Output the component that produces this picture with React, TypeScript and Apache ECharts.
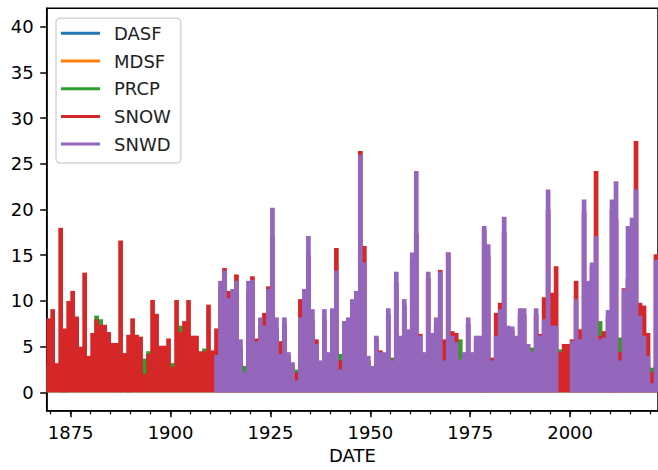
import React, { useEffect, useRef } from "react";
import * as echarts from "echarts";

// ---- data (one value per year) ----
const START_YEAR = 1869;
const X_MIN = 1869;
const X_MAX = 2022;
const X_LABEL_YEARS = [1875, 1900, 1925, 1950, 1975, 2000];
const X_MINOR_YEARS = [
  1870, 1875, 1880, 1885, 1890, 1895, 1900, 1905, 1910, 1915, 1920, 1925, 1930,
  1935, 1940, 1945, 1950, 1955, 1960, 1965, 1970, 1975, 1980, 1985, 1990, 1995,
  2000, 2005, 2010, 2015, 2020,
];
const Y_TICKS = [0, 5, 10, 15, 20, 25, 30, 35, 40];

// DASF and MDSF are hidden under the other series
const DASF: (number | null)[] = [];
const MDSF: (number | null)[] = [];

const PRCP: (number | null)[] = [
  3.0, 2.8, 2.9, 3.1, 2.7, 3.3, 2.9, 3.0, 3.2, 2.8, // 1869
  3.1, 2.9, 8.4, 8.0, 3.0, 2.8, 3.2, 2.9, 3.0, 3.1, // 1879
  2.8, 3.0, 2.9, 3.3, 3.7, 4.5, 3.0, 2.9, 3.1, 2.8, // 1889
  3.0, 3.2, 2.9, 7.3, 3.1, 2.8, 3.0, 3.2, 2.9, 4.8, // 1899
  3.0, 3.1, 3.0, 3.2, 2.8, 3.5, 2.9, 3.3, 3.0, 2.9, // 1909
  3.1, 2.7, 3.4, 2.6, 3.0, 3.1, 2.8, 3.2, 2.9, 3.0, // 1919
  2.7, 2.4, 2.5, 3.1, 2.8, 3.0, 2.6, 3.3, 2.9, 3.6, // 1929
  2.8, 3.0, 2.7, 4.2, 3.1, 3.3, 2.9, 3.0, 2.8, 3.2, // 1939
  2.9, 2.6, 3.0, 3.1, 3.4, 2.8, 3.8, 3.0, 2.9, 3.1, // 1949
  2.7, 3.3, 2.8, 3.0, 2.9, 3.2, 2.6, 3.0, 2.9, 3.1, // 1959
  2.8, 3.0, 3.0, 5.8, 2.8, 3.0, 3.1, 2.7, 3.0, 3.2, // 1969
  2.9, 2.6, 3.1, 3.0, 2.8, 3.2, 2.9, 3.0, 3.1, 2.7, // 1979
  3.0, 4.9, 3.0, 3.3, 2.9, 3.1, 2.8, 3.0, 4.7, 2.9, // 1989
  3.0, 3.1, 2.8, 3.0, 3.2, 3.0, 2.9, 3.2, 7.8, 3.0, // 1999
  2.9, 3.0, 2.8, 6.0, 3.1, 2.9, 3.0, 3.3, 3.0, 3.2, // 2009
  2.9, 2.7, 3.1, // 2019
];

const SNOW: (number | null)[] = [
  8.1, 9.1, 3.2, 18.0, 7.0, 10.0, 11.1, 8.3, 5.0, 13.1, // 1869
  4.0, 6.5, 8.0, 7.4, 7.4, 6.6, 5.4, 5.4, 16.6, 4.3, // 1879
  6.3, 8.1, 6.3, 6.1, 2.0, 4.2, 10.1, 8.6, 5.1, 5.1, // 1889
  5.9, 2.8, 10.1, 6.6, 7.8, 10.1, 6.2, 6.2, 4.5, 4.5, // 1899
  9.6, 4.6, 7.0, 11.5, 13.6, 11.1, 10.5, 12.9, 5.0, 1.6, // 1909
  11.0, 12.7, 5.9, 7.5, 8.7, 11.6, 17.0, 7.0, 5.6, 7.5, // 1919
  4.0, 3.0, 2.2, 10.2, 10.0, 15.0, 8.0, 5.8, 3.0, 8.0, // 1929
  4.0, 8.5, 15.8, 3.5, 7.0, 7.5, 9.5, 10.0, 26.4, 16.0, // 1939
  3.5, 2.5, 6.0, 4.6, 4.0, 8.5, 3.6, 12.0, 6.0, 9.5, // 1949
  6.5, 14.5, 17.4, 6.4, 4.0, 12.5, 6.0, 7.5, 13.4, 5.8, // 1959
  15.3, 6.7, 6.5, 3.2, 4.0, 7.5, 4.0, 6.0, 6.0, 17.7, // 1969
  15.0, 3.8, 8.7, 9.8, 17.6, 7.0, 6.8, 6.0, 8.5, 8.5, // 1979
  5.0, 4.4, 8.5, 6.4, 10.4, 20.0, 10.9, 13.8, 4.4, 5.3, // 1989
  5.3, 5.8, 12.2, 6.9, 19.8, 12.0, 13.8, 24.2, 6.2, 6.7, // 1999
  8.3, 20.0, 19.0, 4.4, 11.4, 12.5, 10.0, 27.5, 9.8, 9.5, // 2009
  6.5, 2.2, 15.1, // 2019
];

const SNWD: (number | null)[] = [
  null, null, null, null, null, null, null, null, null, null, // 1869
  null, null, null, null, null, null, null, null, null, null, // 1879
  null, null, null, null, null, null, null, null, null, null, // 1889
  null, null, null, null, null, null, null, null, null, null, // 1899
  null, null, 4.1, 12.2, 13.3, 10.3, 11.3, 12.2, 5.8, 2.2, // 1909
  12.2, 12.3, 5.6, 8.2, 7.3, 11.3, 20.2, 8.2, 4.2, 8.2, // 1919
  4.4, 3.3, 1.3, 8.2, 11.3, 17.1, 9.1, 5.3, 3.5, 9.1, // 1929
  4.4, 9.2, 13.3, 2.5, 7.8, 8.2, 10.2, 11.1, 26.0, 14.2, // 1939
  4.0, 2.9, 6.2, 4.4, 4.4, 9.2, 3.5, 13.2, 6.2, 10.2, // 1949
  6.9, 15.3, 24.2, 6.2, 4.4, 13.2, 6.5, 8.2, 13.2, 3.5, // 1959
  15.3, 6.2, 5.5, 3.6, 4.4, 8.2, 4.4, 6.2, 6.2, 18.2, // 1969
  16.2, 3.5, 6.2, 9.1, 19.2, 7.3, 7.2, 6.2, 9.2, 9.2, // 1979
  5.3, 4.5, 9.2, 6.2, 8.0, 22.2, 7.3, 7.3, 0, 0, // 1989
  0, 5.6, 10.2, 5.8, 21.1, 12.2, 14.2, 17.1, 5.8, 6.0, // 1999
  9.0, 21.1, 23.1, 3.5, 11.3, 18.2, 19.1, 22.2, 8.4, 6.2, // 2009
  4.0, 1.0, 14.5, // 2019
];

const SERIES_NAMES = ["DASF", "MDSF", "PRCP", "SNOW", "SNWD"];
const SERIES_VALUES = [DASF, MDSF, PRCP, SNOW, SNWD];
const COLORS = ["#1f77b4", "#ff7f0e", "#2ca02c", "#d62728", "#9467bd"];

const FONT = "DejaVu Sans";

function toPairs(vals: (number | null)[]) {
  const out: [number, number][] = [];
  vals.forEach((v, i) => {
    if (v !== null && v !== undefined) out.push([START_YEAR + i + 0.5, v]);
  });
  return out;
}

function buildOption() {
  const gridLayout = { left: 46.7, top: 8.3, width: 613.3, height: 402.4 };
  const tickLine = { color: "#000", width: 1.5 };
  return {
    animation: false,
    backgroundColor: "#fff",
    grid: [
      { ...gridLayout, show: true, borderColor: "#000", borderWidth: 1.5, backgroundColor: "transparent" },
      { ...gridLayout, show: false },
    ],
    xAxis: [
      {
        type: "value",
        gridIndex: 0,
        min: X_MIN,
        max: X_MAX,
        splitLine: { show: false },
        axisLine: { show: true, onZero: false, lineStyle: tickLine },
        axisTick: { show: true, customValues: X_LABEL_YEARS, length: 6.5, lineStyle: tickLine },
        axisLabel: {
          customValues: X_LABEL_YEARS,
          formatter: (v: number) => String(v),
          margin: 13,
          fontFamily: FONT,
          fontSize: 18,
          color: "#000",
        },
        name: "DATE",
        nameLocation: "middle",
        nameGap: 36,
        nameTextStyle: { fontFamily: FONT, fontSize: 18, color: "#000" },
      },
      {
        type: "value",
        gridIndex: 1,
        min: X_MIN,
        max: X_MAX,
        splitLine: { show: false },
        axisLine: { show: false, onZero: false },
        axisTick: { show: true, customValues: X_MINOR_YEARS, length: 3.7, lineStyle: { color: "#000", width: 1.2 } },
        axisLabel: { show: false },
      },
    ],
    yAxis: [
      {
        type: "value",
        gridIndex: 0,
        min: -2,
        max: 42,
        splitLine: { show: false },
        axisLine: { show: true, onZero: false, lineStyle: tickLine },
        axisTick: { show: true, customValues: Y_TICKS, length: 6.5, lineStyle: tickLine },
        axisLabel: {
          customValues: Y_TICKS,
          formatter: (v: number) => String(v),
          margin: 13,
          fontFamily: FONT,
          fontSize: 18,
          color: "#000",
        },
      },
      { type: "value", gridIndex: 1, min: -2, max: 42, show: false },
    ],
    legend: {
      orient: "vertical",
      left: 56,
      top: 18.3,
      padding: [5, 10, 9, 5],
      itemWidth: 39,
      itemHeight: 3,
      itemGap: 7.7,
      icon: "rect",
      selectedMode: false,
      data: SERIES_NAMES,
      textStyle: { fontFamily: FONT, fontSize: 18, color: "#222", lineHeight: 20, padding: [0, 0, 0, 9] },
      borderColor: "#d5d5d5",
      borderWidth: 1.5,
      borderRadius: 4,
      backgroundColor: "rgba(255,255,255,0.8)",
    },
    series: SERIES_NAMES.map((name, i) => ({
      type: "bar",
      name,
      xAxisIndex: 0,
      yAxisIndex: 0,
      data: toPairs(SERIES_VALUES[i]),
      barWidth: 4.7,
      barGap: "-100%",
      itemStyle: { color: COLORS[i], borderWidth: 0 },
      emphasis: { disabled: true },
      silent: true,
    })),
  };
}

export default function App() {
  const ref = useRef<HTMLDivElement>(null);
  useEffect(() => {
    if (!ref.current) return;
    const chart = echarts.init(ref.current, null, { renderer: "svg" });
    chart.setOption(buildOption() as any);
    return () => {
      chart.dispose();
    };
  }, []);
  return (
    <div
      ref={ref}
      style={{ position: "fixed", left: 0, top: 0, width: 658, height: 470, background: "#fff" }}
    />
  );
}
